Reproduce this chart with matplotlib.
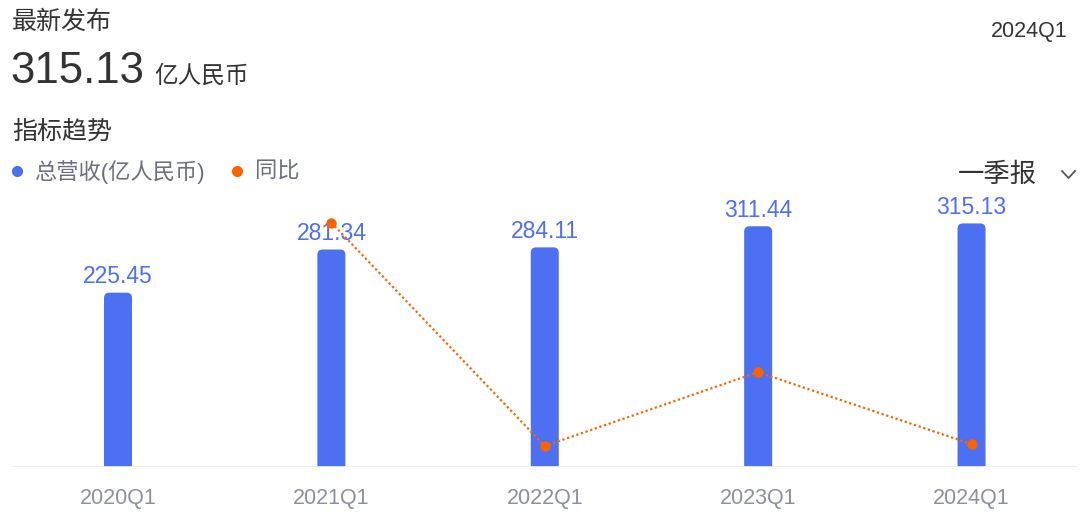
import matplotlib
matplotlib.use('Agg')
import matplotlib.pyplot as plt
from matplotlib.patches import FancyBboxPatch
from matplotlib.lines import Line2D

plt.rcParams['font.family'] = ['Liberation Sans', 'Noto Sans CJK SC', 'DejaVu Sans']

quarters = ['2020Q1', '2021Q1', '2022Q1', '2023Q1', '2024Q1']
revenue = [225.45, 281.34, 284.11, 311.44, 315.13]
# yoy growth (%), no value for the first quarter
yoy_quarters = ['2021Q1', '2022Q1', '2023Q1', '2024Q1']
yoy = [24.79, 0.98, 8.85, 1.18]

blue = '#4D6FF1'
orange = '#FA6400'

fig = plt.figure(figsize=(10.8, 5.28), dpi=100)
ax = fig.add_axes([0.01046, 0.1161, 0.9879, 0.524])
ax.set_xlim(-0.5, 4.5)
ax.set_ylim(0, 358.4)

x = list(range(len(quarters)))
bw = 28 / 213.4
for xi, v in zip(x, revenue):
    p = FancyBboxPatch((xi - bw / 2, -20), bw, v + 20,
                       boxstyle='round,pad=0,rounding_size=0.025',
                       mutation_aspect=276.4, fc=blue, ec='none')
    ax.add_patch(p)
    ax.text(xi, v + 5.5, f'{v:.2f}', ha='center', va='bottom',
            fontsize=16.5, color=blue)

ax.axhline(0, color='#EEEEF1', lw=2, zorder=5)
ax.set_xticks(x)
ax.set_xticklabels(quarters, fontsize=15.5, color='#8C909C')
ax.tick_params(axis='x', length=0, pad=15)
ax.set_yticks([])
for s in ax.spines.values():
    s.set_visible(False)

ax2 = ax.twinx()
ax2.set_ylim(-1.23, 28.27)
xi2 = [quarters.index(q) for q in yoy_quarters]
ax2.plot(xi2, yoy, color=orange, lw=1.6, ls=(0, (1, 1.2)),
         marker='o', markersize=7.5, markeredgewidth=0, zorder=6)
ax2.set_yticks([])
for s in ax2.spines.values():
    s.set_visible(False)

# header texts
fig.text(12 / 1080, 1 - 22 / 528, '最新发布', fontsize=18, color='#333333',
         ha='left', va='center')
fig.text(10 / 1080, 1 - 83 / 528, '315.13', fontsize=31.5, color='#333333',
         ha='left', va='baseline')
fig.text(154 / 1080, 1 - 83 / 528, '亿人民币', fontsize=17, color='#333333',
         ha='left', va='baseline')
fig.text(1067 / 1080, 1 - 31 / 528, '2024Q1', fontsize=15.5, color='#333333',
         ha='right', va='center')
fig.text(12 / 1080, 1 - 132 / 528, '指标趋势', fontsize=18, color='#333333',
         ha='left', va='center')

# legend
fig.add_artist(Line2D([16.7 / 1080], [1 - 171 / 528], marker='o', color=blue,
                      markersize=8, markeredgewidth=0, transform=fig.transFigure))
fig.text(34 / 1080, 1 - 172 / 528, '总营收(亿人民币)', fontsize=16, color='#6B6F7B',
         ha='left', va='center')
fig.add_artist(Line2D([237 / 1080], [1 - 171 / 528], marker='o', color=orange,
                      markersize=8, markeredgewidth=0, transform=fig.transFigure))
fig.text(255 / 1080, 1 - 172 / 528, '同比', fontsize=16, color='#6B6F7B',
         ha='left', va='center')

# period selector
fig.text(958 / 1080, 1 - 175 / 528, '一季报', fontsize=19, color='#333333',
         ha='left', va='center')
fig.add_artist(Line2D([1062 / 1080, 1068.5 / 1080, 1075 / 1080],
                      [1 - 171 / 528, 1 - 178 / 528, 1 - 171 / 528],
                      color='#555555', lw=1.3, transform=fig.transFigure))

fig.savefig('out.png', dpi=100)
